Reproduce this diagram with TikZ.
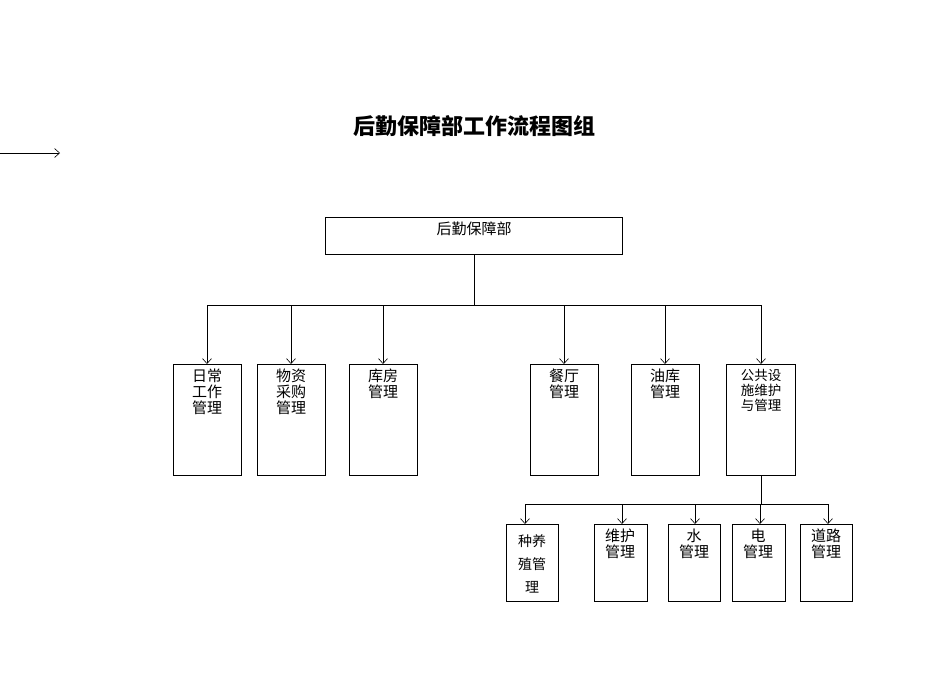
\documentclass[tikz,border=0pt]{standalone}
\usepackage{fontspec}
\setmainfont{Noto Sans CJK SC}
\usetikzlibrary{arrows.meta}
\begin{document}
\begin{tikzpicture}[x=1pt,y=-1pt,
 box/.style={draw,line width=0.8pt},
 lbl/.style={anchor=north,align=center,font=\fontsize{15}{16}\selectfont,inner sep=0pt},
 arr/.style={-{Straight Barb[length=5pt,width=9pt]},line width=0.6pt},
 ln/.style={line width=0.6pt}]
\useasboundingbox (0,0) rectangle (950,672);
\node[font=\bfseries\fontsize{22}{24}\selectfont] (title) at (474,126) {后勤保障部工作流程图组};
\coordinate (a0) at (0,153); \coordinate (a1) at (60,153);
\draw[arr] (a0) -- (a1);
\draw[box] (325,217) rectangle (622,254) node[pos=.5] (top) {};
\node[lbl] at (474,222) {后勤保障部};
\coordinate (topb) at (474,254);
\coordinate (bus1) at (474,305);
\draw[ln] (topb) -- (bus1);
\draw[ln] (207,305) -- (761,305);
\foreach \n/\xa/\xb/\t in {r1/173/241/{日常\\工作\\管理},r2/257/325/{物资\\采购\\管理},r3/349/417/{库房\\管理},r4/530/598/{餐厅\\管理},r5/631/699/{油库\\管理}}{
 \draw[box] (\xa,364) rectangle (\xb,475);
 \coordinate (\n) at ({(\xa+\xb)/2},364);
 \draw[arr] ({(\xa+\xb)/2},305) -- (\n);
 \node[lbl] at ({(\xa+\xb)/2},369) {\t};
}
\draw[box] (726,364) rectangle (795,475);
\coordinate (r6) at (761,364);
\draw[arr] (761,305) -- (r6);
\node[lbl,font=\fontsize{13.5}{15}\selectfont] at (761,369) {公共设\\施维护\\与管理};
\draw[ln] (761,475) -- (761,504);
\draw[ln] (525,504) -- (828,504);
\foreach \n/\xa/\xb/\t in {s2/594/647/{维护\\管理},s3/668/720/{水\\管理},s4/732/785/{电\\管理},s5/800/852/{道路\\管理}}{
 \draw[box] (\xa,524) rectangle (\xb,601);
 \coordinate (\n) at ({(\xa+\xb)/2},524);
}
\foreach \n/\x in {s2/622,s3/695,s4/760,s5/828}{\draw[arr] (\x,504) -- (\x,524);}
\node[lbl] at (620,529) {维护\\管理};
\node[lbl] at (694,529) {水\\管理};
\node[lbl] at (758,529) {电\\管理};
\node[lbl] at (826,529) {道路\\管理};
\draw[box] (506,524) rectangle (558,601);
\draw[arr] (525,504) -- (525,524);
\node[lbl,font=\fontsize{14}{23}\selectfont] at (532,534) {种养\\殖管\\理};
\end{tikzpicture}
\end{document}
